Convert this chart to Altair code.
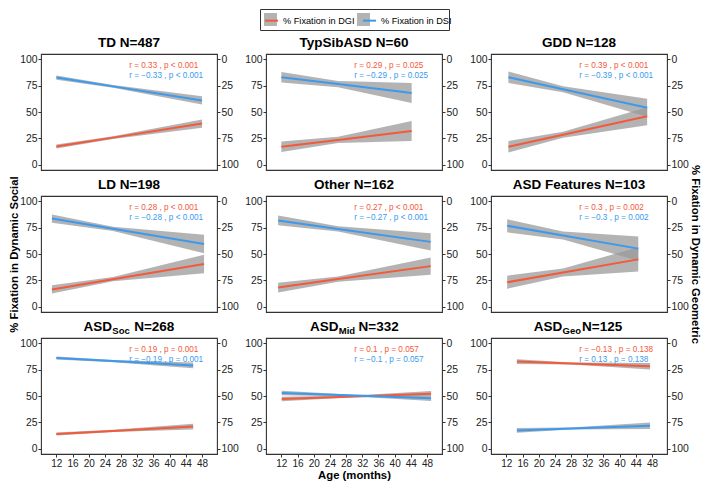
import altair as alt
import pandas as pd

# ---------------- data ----------------
RED = "#F4593A"
BLUE = "#3B9AEE"
BAND = "#999999"
FONT = "Liberation Sans"

title_main = ["TD N=487", "TypSibASD N=60", "GDD N=128", "LD N=198", "Other N=162",
              "ASD Features N=103", "ASD", "ASD", "ASD"]
title_sub = ["", "", "", "", "", "", "Soc", "Mid", "Geo"]
title_tail = ["", "", "", "", "", "", "N=268", "N=332", "N=125"]

# ages (months) where fitted line and ribbon were read: start, middle, end
ages = [[12, 26, 48], [12, 26, 44.2], [12.5, 26, 46.8],
        [10.9, 26, 48.5], [11.2, 26, 48.9], [12.2, 26, 44.6],
        [12, 26, 45.8], [12.1, 30, 49], [14.6, 28, 47.5]]

dsi_fit = [[82.7, 74.3, 61.0], [83.0, 76.5, 68.0], [83.0, 71.6, 54.0],
           [83.6, 73.9, 59.4], [81.8, 73.8, 61.5], [76.8, 67.6, 55.1],
           [86.0, 83.1, 79.0], [52.8, 50.4, 47.8], [17.4, 19.2, 21.8]]
dsi_lo = [[80.7, 73.1, 57.0], [78.0, 73.5, 58.5], [77.5, 68.8, 45.5],
          [79.7, 71.9, 50.6], [77.2, 71.3, 53.3], [70.6, 63.8, 43.6],
          [84.5, 82.1, 76.2], [50.6, 49.6, 45.3], [15.2, 18.2, 18.8]]
dsi_hi = [[84.7, 75.5, 65.0], [88.0, 79.5, 77.5], [88.5, 74.4, 62.5],
          [87.5, 75.9, 68.2], [86.4, 76.3, 69.7], [83.0, 71.4, 66.6],
          [87.5, 84.1, 81.8], [55.0, 51.2, 50.3], [19.6, 20.2, 24.8]]

dgi_fit = [[17.3, 25.7, 39.0], [17.0, 23.5, 32.0], [17.0, 28.4, 46.0],
           [16.4, 26.1, 40.6], [18.2, 26.2, 38.5], [23.2, 32.4, 44.9],
           [14.0, 16.9, 21.0], [47.2, 49.6, 52.2], [82.6, 80.8, 78.2]]
dgi_lo = [[15.3, 24.5, 35.0], [12.0, 20.5, 22.5], [11.5, 25.6, 37.5],
          [12.5, 24.1, 31.8], [13.6, 23.7, 30.3], [17.0, 28.6, 33.4],
          [12.5, 15.9, 18.2], [45.0, 48.8, 49.7], [80.4, 79.8, 75.2]]
dgi_hi = [[19.3, 26.9, 43.0], [22.0, 26.5, 41.5], [22.5, 31.2, 54.5],
          [20.3, 28.1, 49.4], [22.8, 28.7, 46.7], [29.4, 36.2, 56.4],
          [15.5, 17.9, 23.8], [49.4, 50.4, 54.7], [84.8, 81.8, 81.2]]

r_dgi = ["0.33", "0.29", "0.39", "0.28", "0.27", "0.3", "0.19", "0.1", "\u22120.13"]
r_dsi = ["\u22120.33", "\u22120.29", "\u22120.39", "\u22120.28", "\u22120.27", "\u22120.3",
         "\u22120.19", "\u22120.1", "0.13"]
p_val = ["< 0.001", "= 0.025", "< 0.001", "< 0.001", "< 0.001", "= 0.002",
         "= 0.001", "= 0.057", "= 0.138"]

label_age = 30
label_y = {"DGI": 94, "DSI": 84}

X_TICKS = [12, 16, 20, 24, 28, 32, 36, 40, 44, 48]
Y_TICKS = [0, 25, 50, 75, 100]
X_DOMAIN = [8.2, 51.7]
Y_DOMAIN = [-5, 105]

SERIES = ["% Fixation in DGI", "% Fixation in DSI"]
KEYS = ["DGI", "DSI"]

W, H = 176, 116
TITLE_Y = -7.3
SUB_Y = -4.3

# subscript title pieces: x of "ASD", subscript, "N=..." (pixels in panel)
sub_x = {6: (42.5, 71.3, 93.2), 7: (44.0, 72.8, 92.5), 8: (42.8, 71.5, 91.0)}

LEG = dict(title=None, orient="none", legendX=219, legendY=-45, direction="horizontal",
           symbolSize=169, labelFontSize=9.2, labelFont=FONT, labelOffset=4,
           columnPadding=4, padding=4)


def panel(i):
    rows = []
    for key, fit, lo, hi in (("DGI", dgi_fit[i], dgi_lo[i], dgi_hi[i]),
                             ("DSI", dsi_fit[i], dsi_lo[i], dsi_hi[i])):
        for a, f, l, h in zip(ages[i], fit, lo, hi):
            rows.append({"age": a, "fit": f, "lo": l, "hi": h, "key": key,
                         "series": "% Fixation in " + key})
    df = pd.DataFrame(rows)
    lab = pd.DataFrame([
        {"age": label_age, "ly": label_y["DGI"], "series": SERIES[0],
         "label": f"r = {r_dgi[i]} , p {p_val[i]}"},
        {"age": label_age, "ly": label_y["DSI"], "series": SERIES[1],
         "label": f"r = {r_dsi[i]} , p {p_val[i]}"},
    ])

    bottom = i >= 6
    xscale = alt.Scale(domain=X_DOMAIN, nice=False, zero=False)
    if bottom:
        xaxis = alt.Axis(values=X_TICKS, title="Age (months)" if i == 7 else None,
                         labelFontSize=10, tickSize=3, labelPadding=1, titlePadding=1)
    else:
        xaxis = None
    x = alt.X("age:Q", scale=xscale, axis=xaxis)

    yscale = alt.Scale(domain=Y_DOMAIN, nice=False, zero=False)
    left_axis = alt.Axis(values=Y_TICKS, title="% Fixation in Dynamic Social" if i == 3 else None,
                         orient="left", titlePadding=0)

    band = alt.Chart(df).mark_area(opacity=0.75).encode(
        x=x,
        y=alt.Y("lo:Q", scale=yscale, axis=left_axis),
        y2="hi:Q",
        fill=alt.Fill("key:N", scale=alt.Scale(domain=KEYS, range=[BAND, BAND]),
                      legend=alt.Legend(symbolType="square", symbolOpacity=0.75, symbolStrokeWidth=0,
                                        labelExpr="'% Fixation in ' + datum.label",
                                        labelOpacity=0, strokeColor="#333333", zindex=0, **LEG)),
        detail="key:N",
    )
    line = alt.Chart(df).mark_line(strokeWidth=2).encode(
        x=x,
        y=alt.Y("fit:Q", scale=yscale, axis=left_axis),
        stroke=alt.Stroke("series:N", scale=alt.Scale(domain=SERIES, range=[RED, BLUE]),
                          legend=alt.Legend(symbolType="stroke", symbolStrokeWidth=2,
                                            labelColor="black", zindex=1, **LEG)),
    )
    text = alt.Chart(lab).mark_text(align="left", baseline="middle", fontSize=8.2, font=FONT).encode(
        x=x,
        y=alt.Y("ly:Q", scale=yscale, axis=left_axis),
        text="label:N",
        color=alt.Color("series:N", scale=alt.Scale(domain=SERIES, range=[RED, BLUE]), legend=None),
    )
    inner_layers = [band, line, text]
    t_df = pd.DataFrame({"m": [title_main[i]], "s": [title_sub[i]], "t": [title_tail[i]]})
    base = alt.Chart(t_df)
    big = dict(baseline="alphabetic", fontSize=13.5, fontWeight="bold", font=FONT, color="black")
    if title_sub[i]:
        xa, xs, xt = sub_x[i]
        inner_layers += [
            base.mark_text(align="left", **big).encode(x=alt.value(xa), y=alt.value(TITLE_Y), text="m:N"),
            base.mark_text(align="left", baseline="alphabetic", fontSize=9.5, fontWeight="bold",
                           font=FONT, color="black").encode(x=alt.value(xs), y=alt.value(SUB_Y), text="s:N"),
            base.mark_text(align="left", **big).encode(x=alt.value(xt), y=alt.value(TITLE_Y), text="t:N"),
        ]
    else:
        inner_layers.append(
            base.mark_text(align="center", **big).encode(x=alt.value(W / 2), y=alt.value(TITLE_Y), text="m:N"))
    inner = alt.layer(*inner_layers)

    right_axis = alt.Axis(values=Y_TICKS, orient="right",
                          title="% Fixation in Dynamic Geometric" if i == 5 else None,
                          titlePadding=1)
    right = alt.Chart(df).mark_point(opacity=0).encode(
        x=x,
        y=alt.Y("fit:Q", scale=alt.Scale(domain=Y_DOMAIN, reverse=True, nice=False, zero=False),
                axis=right_axis),
    )
    return alt.layer(inner, right).resolve_scale(y="independent").properties(width=W, height=H)


chart = alt.concat(*[panel(i) for i in range(9)], columns=3,
                   spacing={"row": 26, "column": 49}, bounds="flush").properties(
    padding=0
).configure_view(
    stroke="#333333", strokeWidth=1.1
).configure_axis(
    labelFont=FONT, labelFontSize=10.4, labelColor="#222222", tickColor="#333333",
    tickSize=3, labelPadding=1, domain=False, grid=False,
    titleFont=FONT, titleFontSize=11.3, titleFontWeight="bold", titleColor="black",
)

chart.save("out.html", embed_options={"renderer": "svg", "actions": False})
